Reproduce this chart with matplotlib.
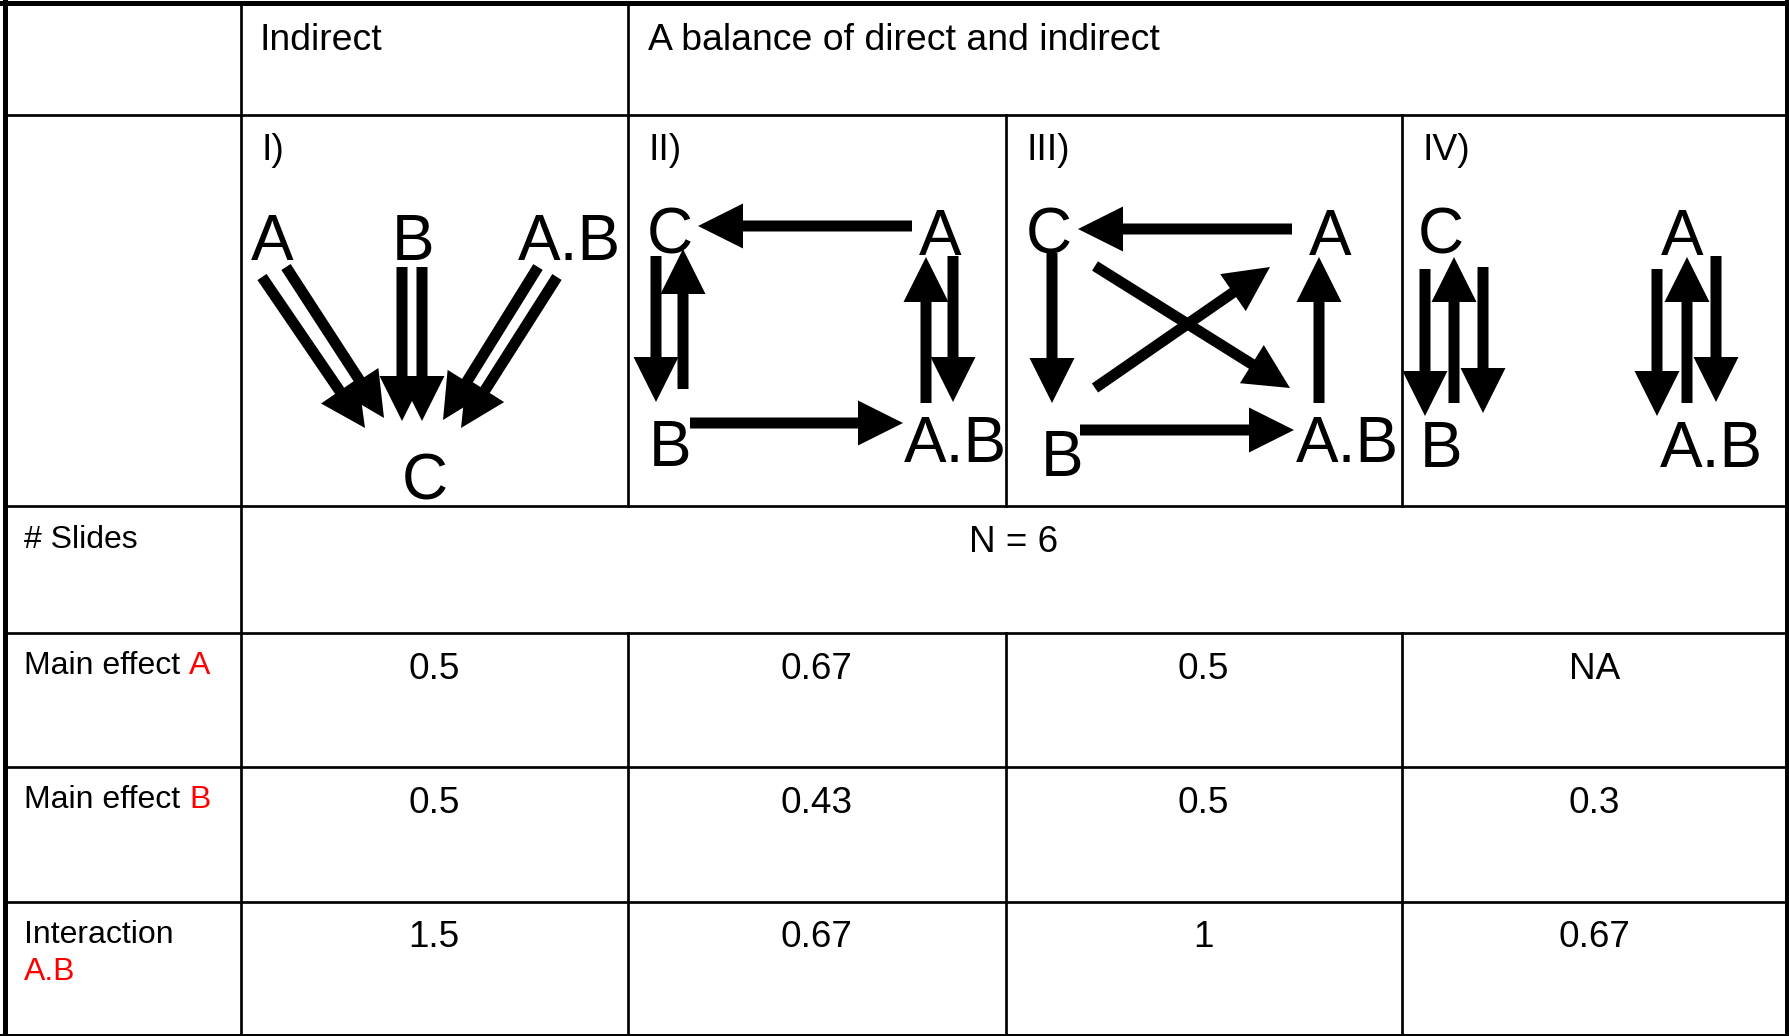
import matplotlib
matplotlib.use("Agg")
import matplotlib.pyplot as plt

plt.rcParams['font.family'] = ['Liberation Sans', 'DejaVu Sans']

# ---------------- data ----------------
header_groups = ["Indirect", "A balance of direct and indirect"]
panel_ids = ["I)", "II)", "III)", "IV)"]
slides_label = "# Slides"
slides_value = "N = 6"
row_labels = [("Main effect ", "A"), ("Main effect ", "B"), ("Interaction", "A.B")]
main_effect_A = ["0.5", "0.67", "0.5", "NA"]
main_effect_B = ["0.5", "0.43", "0.5", "0.3"]
interaction_AB = ["1.5", "0.67", "1", "0.67"]
values = [main_effect_A, main_effect_B, interaction_AB]

# diagram edges per panel (from -> to)
edges_I = [("A", "C"), ("A", "C"), ("B", "C"), ("B", "C"), ("A.B", "C"), ("A.B", "C")]
edges_II = [("A", "C"), ("B", "A.B"), ("C", "B"), ("B", "C"), ("A.B", "A"), ("A", "A.B")]
edges_III = [("A", "C"), ("C", "B"), ("B", "A.B"), ("A.B", "A"), ("C", "A.B"), ("B", "A")]
edges_IV = [("C", "B"), ("B", "C"), ("C", "B"), ("A", "A.B"), ("A.B", "A"), ("A", "A.B")]

# ---------------- layout (pixels) ----------------
W, H = 1789, 1036
col_x = [4.5, 240.8, 627.5, 1005.5, 1401.5, 1787]
row_y = [2.5, 114.7, 505.5, 633, 767, 901.5, 1034.5]

node_pos = [
    {"A": (272, 260), "B": (413, 260), "A.B": (569, 260), "C": (424.5, 500)},
    {"C": (670, 254), "A": (940, 255), "B": (670, 466), "A.B": (955, 462)},
    {"C": (1049, 254), "A": (1330, 255), "B": (1062, 476), "A.B": (1347, 462)},
    {"C": (1441, 254), "A": (1682, 255), "B": (1441, 467), "A.B": (1711, 467)},
]
arrow_geom = [
    [((262, 277), (365, 428)), ((286, 267), (384, 418)),
     ((402, 267), (402, 421)), ((422, 267), (422, 421)),
     ((538, 267), (443, 420)), ((557, 277), (461, 428))],
    [((912, 226), (698, 226)), ((690, 423), (903, 423)),
     ((656, 256), (656, 402)), ((683, 389), (683, 249)),
     ((926, 403), (926, 257)), ((953, 256), (953, 402))],
    [((1292, 229), (1078, 229)), ((1052, 253), (1052, 403)),
     ((1080, 430), (1294, 430)), ((1319, 403), (1319, 257)),
     ((1095, 266), (1290, 388)), ((1095, 388), (1270, 267))],
    [((1425, 269), (1425, 416)), ((1454, 403), (1454, 257)),
     ((1483, 267), (1483, 413)), ((1657, 269), (1657, 416)),
     ((1687, 403), (1687, 257)), ((1716, 256), (1716, 402))],
]
edges_all = [edges_I, edges_II, edges_III, edges_IV]

fig = plt.figure(figsize=(W / 100, H / 100), dpi=100)
ax = fig.add_axes([0, 0, 1, 1])
ax.set_xlim(0, W)
ax.set_ylim(H, 0)
ax.axis("off")

px = 0.72  # points per pixel
inner_lw = 2.7 * px

def hline(y, x0, x1, lw=inner_lw):
    ax.plot([x0, x1], [y, y], color="black", lw=lw, solid_capstyle="projecting")

def vline(x, y0, y1, lw=inner_lw):
    ax.plot([x, x], [y0, y1], color="black", lw=lw, solid_capstyle="projecting")

# interior horizontal lines
for y in row_y[1:-1]:
    hline(y, col_x[0], col_x[-1])
# interior vertical lines
vline(col_x[1], row_y[0], row_y[-1])
vline(col_x[2], row_y[0], row_y[2])
vline(col_x[2], row_y[3], row_y[-1])
for x in col_x[3:5]:
    vline(x, row_y[1], row_y[2])
    vline(x, row_y[3], row_y[-1])
# outer border
hline(row_y[0], 0, W, lw=5 * px)
vline(col_x[0], 0, H, lw=5 * px)
vline(col_x[-1], 0, H, lw=4 * px)
hline(row_y[-1], 0, W, lw=3 * px)

hdr_fs = 26.9
lab_fs = 23.0
val_fs = 26.6
node_fs = 46

# header row
ax.text(col_x[1] + 19, 49.5, header_groups[0], fontsize=hdr_fs, va="baseline", ha="left")
ax.text(col_x[2] + 21, 49.5, header_groups[1], fontsize=hdr_fs, va="baseline", ha="left")

# panel ids
for i, pid in enumerate(panel_ids):
    ax.text(col_x[i + 1] + 20.5, 160, pid, fontsize=hdr_fs, va="baseline", ha="left")

# diagrams
for p in range(4):
    for name, (x, y) in node_pos[p].items():
        ax.text(x, y, name, fontsize=node_fs, ha="center", va="baseline")
    for (src, dst), ((x0, y0), (x1, y1)) in zip(edges_all[p], arrow_geom[p]):
        ax.arrow(x0, y0, x1 - x0, y1 - y0, width=11, head_width=45, head_length=45,
                 length_includes_head=True, color="black", lw=0)

# slides row
ax.text(24, 548, slides_label, fontsize=lab_fs, va="baseline", ha="left")
ax.text((col_x[1] + col_x[-1]) / 2, 551.5, slides_value, fontsize=val_fs, va="baseline", ha="center")

# value rows
label_base = [674, 808, 943]
value_base = [679, 813, 947]
centers = [(col_x[i] + col_x[i + 1]) / 2 for i in range(1, 5)]
for r, (blk, red) in enumerate(row_labels):
    if r < 2:
        t = ax.text(24, label_base[r], blk.strip(), fontsize=lab_fs, va="baseline", ha="left")
        ax.annotate(red, xy=(1, 0), xycoords=t, xytext=(0.278 * lab_fs, 0),
                    textcoords="offset points", fontsize=lab_fs, color="#FF0000",
                    va="bottom", ha="left")
    else:
        ax.text(24, label_base[r], blk, fontsize=lab_fs, va="baseline", ha="left")
        ax.text(24, label_base[r] + 37, red, fontsize=lab_fs, va="baseline", ha="left",
                color="#FF0000")
    for c, v in enumerate(values[r]):
        ax.text(centers[c], value_base[r], v, fontsize=val_fs, va="baseline", ha="center")

fig.savefig("out.png", dpi=100)
